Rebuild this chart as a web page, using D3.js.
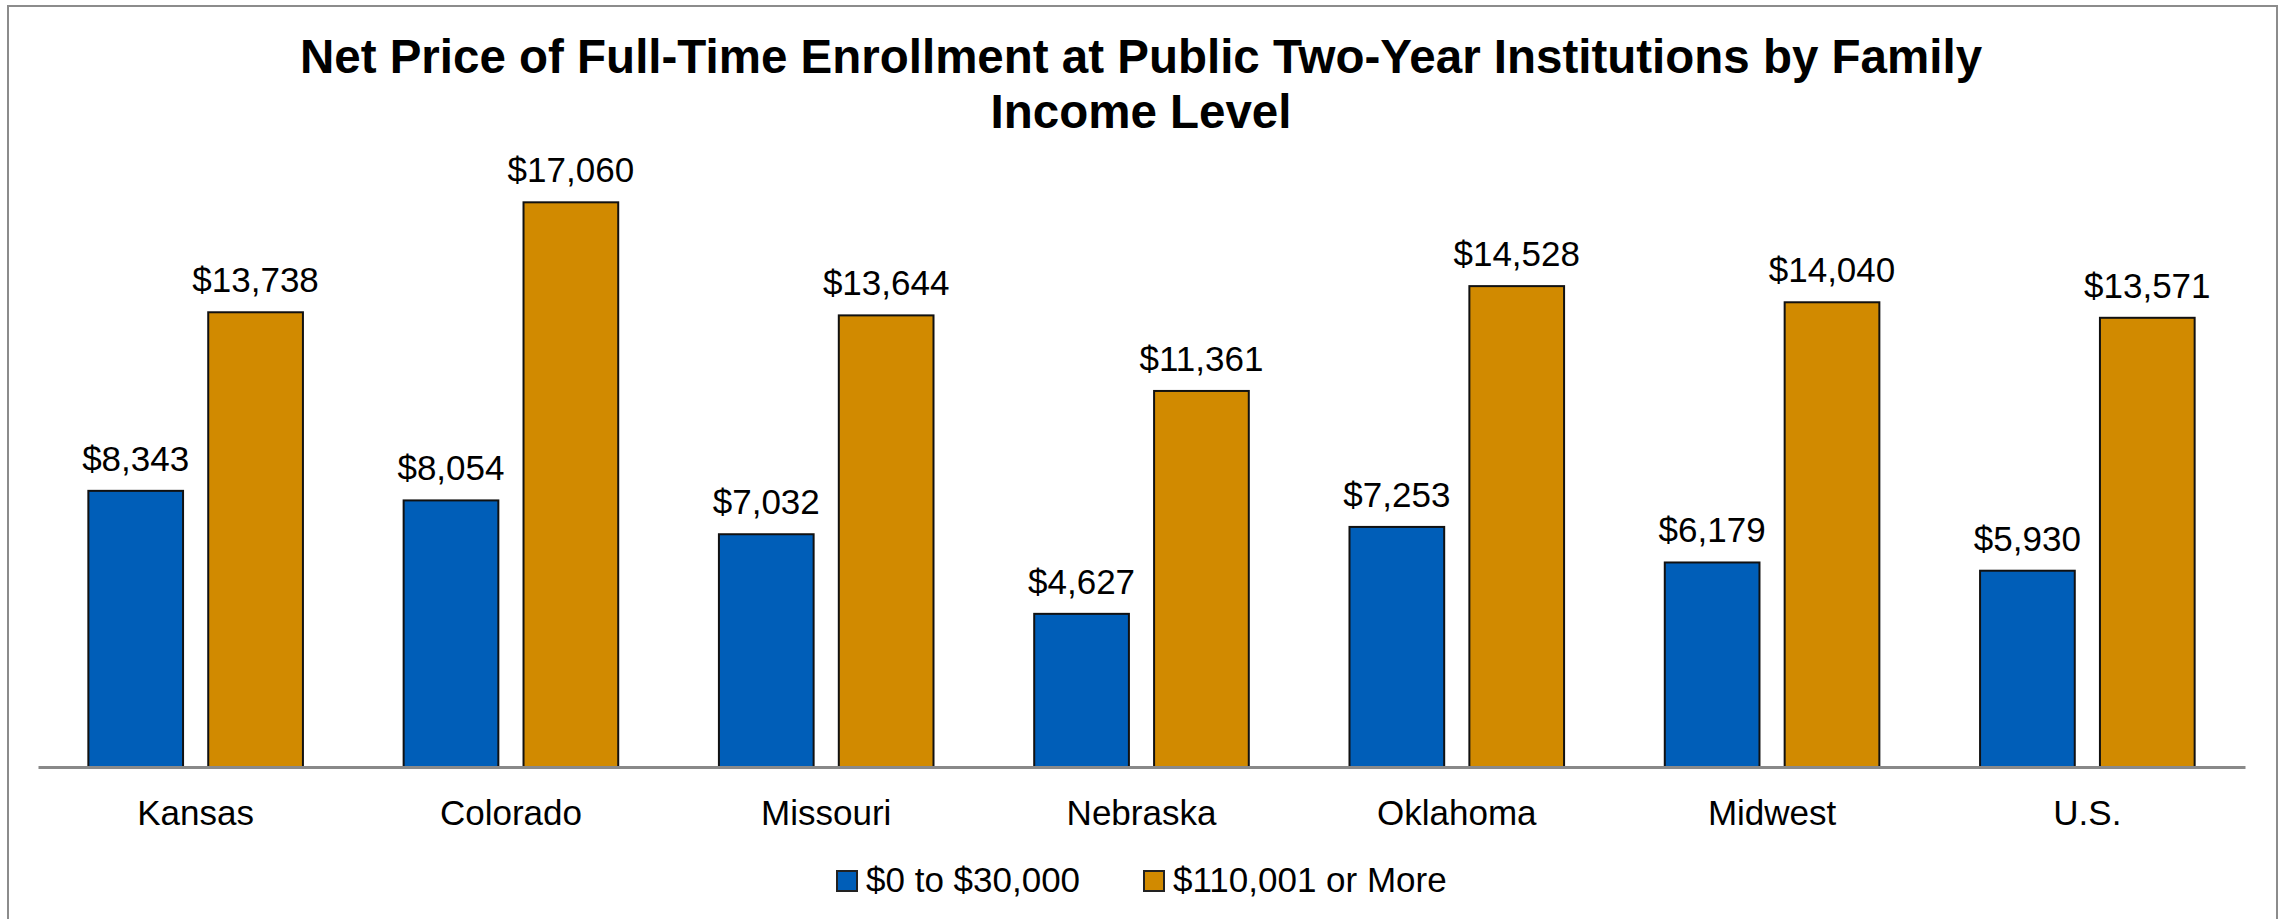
<!DOCTYPE html>
<html>
<head>
<meta charset="utf-8">
<script src="https://cdn.jsdelivr.net/npm/d3@7"></script>
<style>
    body { margin: 0; background: #fff; }
    text { font-family: "Liberation Sans", Arial, sans-serif; }
</style>
</head>
<body>
<div id="chart-container"></div>
<script>
// Data
var categories = ["Kansas", "Colorado", "Missouri", "Nebraska", "Oklahoma", "Midwest", "U.S."];
var seriesNames = ["$0 to $30,000", "$110,001 or More"];
var lowIncome = [8343, 8054, 7032, 4627, 7253, 6179, 5930];
var highIncome = [13738, 17060, 13644, 11361, 14528, 14040, 13571];
var titleLines = ["Net Price of Full-Time Enrollment at Public Two-Year Institutions by Family", "Income Level"];

var colors = ["#005EB8", "#D18A00"];

var width = 2280, height = 919;
var margin = {top: 105, right: 35, bottom: 152, left: 38};

var svg = d3.select("#chart-container")
    .append("svg")
    .attr("width", width)
    .attr("height", height);

// Outer frame
svg.append("rect")
    .attr("x", 8)
    .attr("y", 6)
    .attr("width", width - 11)
    .attr("height", height + 20)
    .attr("fill", "#fff")
    .attr("stroke", "#8c8c8c")
    .attr("stroke-width", 2);

// Title
svg.append("text")
    .attr("x", 1141)
    .attr("y", 73)
    .attr("text-anchor", "middle")
    .style("font-family", "'Liberation Sans Narrow', 'Liberation Sans', sans-serif")
    .style("font-size", "47.5px")
    .style("font-weight", "bold")
    .selectAll("tspan")
    .data(titleLines)
    .enter()
    .append("tspan")
    .attr("x", 1141)
    .attr("dy", function(d, i) { return i === 0 ? 0 : 55; })
    .text(function(d) { return d; });

var plot = svg.append("g");

var x0 = d3.scaleBand()
    .domain(categories)
    .range([margin.left, width - margin.right]);

var x1 = d3.scaleBand()
    .domain(seriesNames)
    .range([0, x0.bandwidth()])
    .paddingInner(0.21)
    .paddingOuter(0.42);

var y = d3.scaleLinear()
    .domain([0, 20000])
    .range([height - margin.bottom, margin.top]);

var rows = categories.map(function(c, i) {
    return {category: c, values: [lowIncome[i], highIncome[i]]};
});

var groups = plot.selectAll("g.group")
    .data(rows)
    .enter()
    .append("g")
    .attr("class", "group")
    .attr("transform", function(d) { return "translate(" + x0(d.category) + ",0)"; });

var bars = groups.selectAll("g.bar")
    .data(function(d) {
        return d.values.map(function(v, j) { return {series: seriesNames[j], value: v, idx: j}; });
    })
    .enter()
    .append("g")
    .attr("class", "bar");

bars.append("rect")
    .attr("x", function(d) { return x1(d.series); })
    .attr("y", function(d) { return y(d.value); })
    .attr("width", x1.bandwidth())
    .attr("height", function(d) { return y(0) - y(d.value); })
    .attr("fill", function(d) { return colors[d.idx]; })
    .attr("stroke", "#111")
    .attr("stroke-width", 2);

// Value labels
bars.append("text")
    .attr("x", function(d) { return x1(d.series) + x1.bandwidth() / 2; })
    .attr("y", function(d) { return y(d.value) - 20; })
    .attr("text-anchor", "middle")
    .style("font-size", "35px")
    .attr("fill", "#000")
    .text(function(d) { return "$" + d3.format(",")(d.value); });

// X axis
var xAxis = plot.append("g")
    .attr("transform", "translate(0," + y(0) + ")")
    .call(d3.axisBottom(x0).tickSize(0).tickPadding(0));

xAxis.select(".domain")
    .attr("stroke", "#898989")
    .attr("stroke-width", 3);

xAxis.selectAll(".tick text")
    .attr("y", 58)
    .attr("dy", 0)
    .style("font-size", "35px")
    .style("font-family", "'Liberation Sans', sans-serif")
    .attr("fill", "#000");

// Legend
var legendX = [837, 1144];
var legend = svg.selectAll("g.legend")
    .data(seriesNames)
    .enter()
    .append("g")
    .attr("class", "legend")
    .attr("transform", function(d, i) { return "translate(" + legendX[i] + ",871)"; });

legend.append("rect")
    .attr("width", 20)
    .attr("height", 20)
    .attr("fill", function(d, i) { return colors[i]; })
    .attr("stroke", "#222")
    .attr("stroke-width", 2);

legend.append("text")
    .attr("x", 29)
    .attr("y", 21)
    .style("font-size", "35px")
    .text(function(d) { return d; });
</script>
</body>
</html>
